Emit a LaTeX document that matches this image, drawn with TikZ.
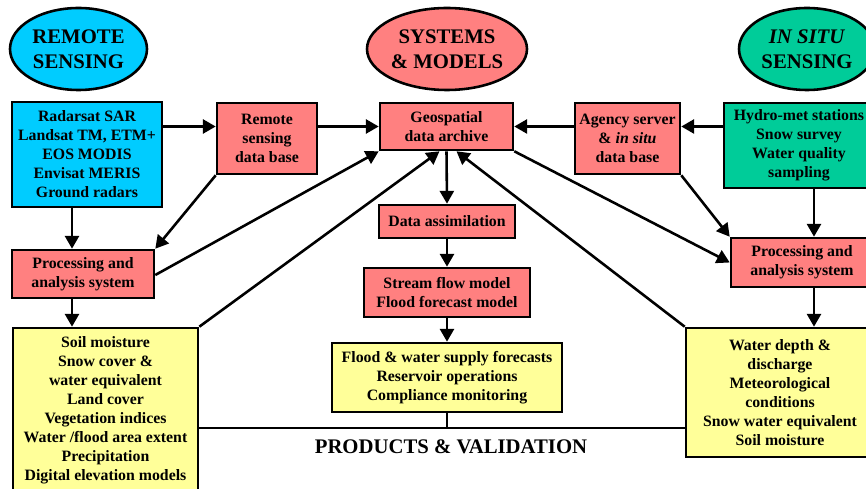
\documentclass[tikz,border=0pt]{standalone}
\usepackage{fontspec}
\setmainfont{Liberation Serif}
\usetikzlibrary{shapes.geometric,arrows.meta}
\definecolor{rscyan}{RGB}{0,204,255}
\definecolor{sysred}{RGB}{255,128,128}
\definecolor{isgreen}{RGB}{0,204,153}
\definecolor{prodyel}{RGB}{255,255,153}
\def\u{0.03cm}
\tikzset{
  every node/.style={font=\bfseries\fontsize{13.5}{16.2}\selectfont, align=center, inner sep=0pt},
  box/.style={draw=black, line width=2.2pt, rectangle},
  oval/.style={draw=black, line width=2.2pt, ellipse, font=\bfseries\fontsize{17.7}{21}\selectfont},
  arr/.style={line width=2.2pt, -{Triangle[length=11pt,width=12pt]}},
  ln/.style={line width=2.2pt},
}
\begin{document}
\begin{tikzpicture}[x=0.03cm,y=-0.03cm]
\useasboundingbox (0,0) rectangle (866,489);
\clip (0,0) rectangle (866,489);
% ellipses
\node[oval, fill=rscyan, minimum width=137*\u, minimum height=82*\u] (rs) at (78.5,49) {REMOTE\\SENSING};
\node[oval, fill=sysred, minimum width=160*\u, minimum height=82*\u] (sm) at (447,49) {SYSTEMS\\\& MODELS};
\node[oval, fill=isgreen, minimum width=136*\u, minimum height=82*\u] (is) at (807,49) {\textit{IN SITU}\\SENSING};
% top row
\node[box, fill=rscyan, minimum width=150*\u, minimum height=105*\u] (rsbox) at (87,154.5) {Radarsat SAR\\Landsat TM, ETM+\\EOS MODIS\\Envisat MERIS\\Ground radars};
\node[box, fill=sysred, minimum width=100*\u, minimum height=71*\u] (rsdb) at (267,138.5) {Remote\\sensing\\data base};
\node[box, fill=sysred, minimum width=133*\u, minimum height=47*\u] (geo) at (446.5,126.5) {Geospatial\\data archive};
\node[box, fill=sysred, minimum width=105*\u, minimum height=71*\u] (agency) at (627.5,138.5) {Agency server\\\& \textit{in situ}\\data base};
\node[box, fill=isgreen, minimum width=150*\u, minimum height=85*\u] (hydro) at (799,145.5) {Hydro-met stations\\Snow survey\\Water quality\\sampling};
% middle
\node[box, fill=sysred, minimum width=142*\u, minimum height=48*\u] (procL) at (83,274) {Processing and\\analysis system};
\node[box, fill=sysred, minimum width=142*\u, minimum height=49*\u] (procR) at (802,262.5) {Processing and\\analysis system};
\node[box, fill=sysred, minimum width=136*\u, minimum height=33*\u] (assim) at (447,221.5) {Data assimilation};
\node[box, fill=sysred, minimum width=166*\u, minimum height=49*\u] (stream) at (447,292.5) {Stream flow model\\Flood forecast model};
% products
\node[box, fill=prodyel, minimum width=185*\u, minimum height=165*\u] (soilL) at (105.5,410.5) {Soil moisture\\Snow cover \&\\water equivalent\\Land cover\\Vegetation indices\\Water /flood area extent\\Precipitation\\Digital elevation models};
\node[box, fill=prodyel, minimum width=230*\u, minimum height=69*\u] (flood) at (447,377.5) {Flood \& water supply forecasts\\Reservoir operations\\Compliance monitoring};
\node[box, fill=prodyel, minimum width=188*\u, minimum height=129*\u] (water) at (780,392.5) {Water depth \&\\discharge\\Meteorological\\conditions\\Snow water equivalent\\Soil moisture};
\node[font=\bfseries\fontsize{17.7}{21}\selectfont] (pv) at (451,447) {PRODUCTS \& VALIDATION};
% helper coordinates
\coordinate (lx) at (72,0);
\coordinate (rx) at (814,0);
\coordinate (bl) at (0,428);
\coordinate (geoL) at ([xshift=-7*\u]geo.south);
\coordinate (geoR) at ([xshift=10*\u]geo.south);
% connectors
\draw[arr] (rsbox.east |- geo) -- (rsdb.west |- geo);
\draw[arr] (rsdb.east |- geo) -- (geo.west);
\draw[arr] (agency.west |- geo) -- (geo.east);
\draw[arr] (hydro.west |- geo) -- (agency.east |- geo);
\draw[arr] (lx |- rsbox.south) -- (lx |- procL.north);
\draw[arr] (lx |- procL.south) -- (lx |- soilL.north);
\draw[arr] (rsdb.south west) -- (procL.north east);
\draw[arr] ([yshift=-1*\u]procL.east) -- (geo.south west);
\draw[arr] (soilL.north east) -- (geoL);
\draw[arr] (water.north west) -- (geoR);
\draw[arr] (geo.south) -- (assim.north);
\draw[arr] (geo.south east) -- (procR.west);
\draw[arr] (agency.south east) -- (procR.north west);
\draw[arr] (rx |- hydro.south) -- (rx |- procR.north);
\draw[arr] (rx |- procR.south) -- (rx |- water.north);
\draw[arr] (assim.south) -- (stream.north);
\draw[arr] (stream.south) -- (flood.north);
\draw[ln] (flood.south) -- (flood.south |- bl);
\draw[ln] (soilL.east |- bl) -- (water.west |- bl);
\end{tikzpicture}
\end{document}
